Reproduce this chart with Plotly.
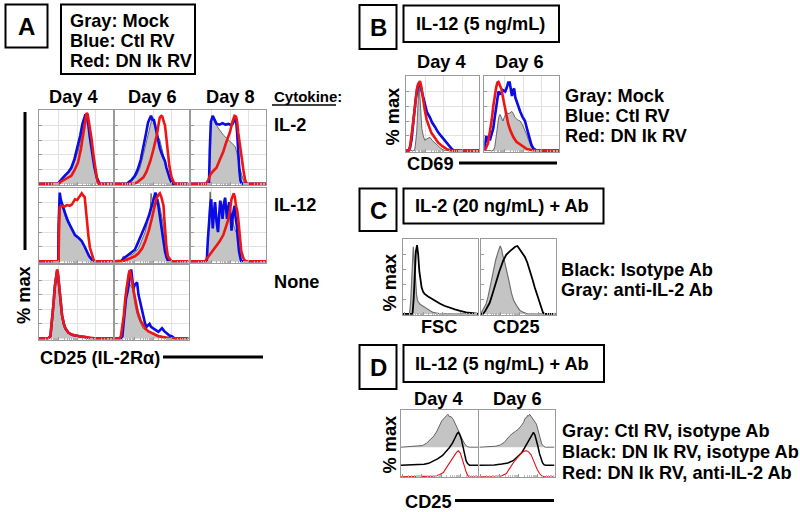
import math
import plotly.graph_objects as go

W, H = 800, 512
FONT = "Liberation Sans, Arial, sans-serif"
FS = 18.2


def X(px):
    return px / W


def Y(py):
    return 1 - py / H


# ---------------- DATA (x = % of axis, y = % max) ----------------
# Panel A, cytokine IL-2
A_IL2_D4_gray = [(0,0),(26,0),(28,3),(31,8),(35,12),(40,15),(44,20),(48,30),(53,44),(57,62),(60,80),(62,92),(63.5,95),(65,92),(67,80),(69,63),(72,42),(75,23),(78,9),(80,3),(82,0),(100,0)]
A_IL2_D4_blue = [(0,0),(26,0),(28,3),(32,8),(36,12),(40,16),(44,22),(48,33),(52,48),(56,66),(59,82),(61.5,92),(63,95),(65,91),(67,80),(69,63),(72,42),(75,23),(78,9),(80,3),(82,0),(100,0)]
A_IL2_D4_red = [(0,0),(27,0),(30,3),(35,6),(40,8),(44,11),(48,18),(53,29),(57,48),(60,67),(62.5,86),(64.5,97),(66,95),(68,83),(71,63),(74,38),(77,13),(79,4),(81,0),(100,0)]

A_IL2_D6_gray = [(0,0),(18,0),(20,2),(25,6),(30,13),(34,22),(38.6,40),(43,60),(46,72),(48,80),(50,88),(52,85),(55,75),(58,66),(61,60),(64,47),(68,29),(71,18),(75,7),(79,0),(100,0)]
A_IL2_D6_blue = [(0,0),(16,0),(18,2),(22,5),(27,11),(31,20),(35,33),(38.6,49),(42,68),(45,84),(47,90),(49,93),(51,88),(53,87),(55,78),(57,67),(61,49),(64,40),(68,31),(70,22),(72.5,13),(75,6),(77,2),(79,0),(100,0)]
A_IL2_D6_red = [(0,0),(25,0),(30,2),(34,5),(38.6,9),(43,17),(48,31),(52,46),(57,67),(59,80),(61,91),(63,93),(64.5,92),(66,86),(68,80),(70,62),(72,40),(74,24),(77,9),(80,2),(82,0),(100,0)]

A_IL2_D8_gray = [(0,0),(24,0),(25,40),(26,75),(28,93),(31,86),(34,80),(38,74),(43,67),(48,62),(52,58),(56,55),(59,51),(61,43),(63,31),(65,22),(68,11),(70,4),(72,0),(100,0)]
A_IL2_D8_blue = [(0,0),(24,0),(25,45),(26.5,85),(29,93),(31,88),(34,82),(38,81),(42,83),(46,81),(50,82),(54,80),(56,83),(58,88),(60,89),(61.5,70),(63,40),(64.5,18),(66,4),(68,0),(100,0)]
A_IL2_D8_red = [(0,0),(20,0),(23,5),(26,13),(30,18),(34,22),(38,32),(43,44),(47,57),(52,71),(55,84),(58,93),(60,92),(61.5,85),(63,70),(65,53),(67,36),(70,18),(72,6),(74,0),(100,0)]

# Panel A, cytokine IL-12
A_IL12_D4_gray = [(0,0),(26.5,0),(27,40),(27.5,80),(28.5,88),(30,80),(33.5,68),(37,58),(40,52),(44,44),(49,36),(54,31),(58,26),(62,20),(65,13),(69,6),(72,2),(74,0),(100,0)]
A_IL12_D4_blue = [(0,0),(26.5,0),(27,50),(27.5,88),(28.5,94),(30,84),(33.5,72),(37,62),(40,54),(44,45),(49,36),(54,32),(58,28),(62,20),(65,14),(68,7),(72,2),(74,0),(100,0)]
A_IL12_D4_red = [(0,0),(27,0),(27.5,40),(28.5,74),(31,76),(35,75),(38,77),(42,76),(45,78),(49,85),(52,84),(55,88),(58,93),(60,90),(62,88),(63.5,72),(65,54),(67,35),(69,19),(72,7),(74,2),(76,0),(100,0)]

A_IL12_D6_gray = [(0,0),(8,0),(11,7),(15,6),(19,9),(23,9),(27,12),(32,18),(36,28),(41,40),(45,58),(48,72),(49,93),(51,80),(53,72),(55,76),(57,82),(59,85),(62,70),(66,49),(68,30),(70,14),(72,5),(74,1),(76,0),(100,0)]
A_IL12_D6_blue = [(0,0),(8,0),(9,1),(13,5),(18,9),(22,11),(27,16),(31,25),(36,36),(39,44),(43,54),(46,62),(50,76),(52,84),(54,90),(55,94),(57,85),(59,76),(61,62),(64,40),(66,25),(68,14),(70,6),(72,1),(74,0),(100,0)]
A_IL12_D6_red = [(0,0),(9,0),(15,2),(20,4),(27,7),(32,11),(37,18),(41,27),(46,42),(50,58),(53,72),(56,85),(59,91),(61,93),(63,88),(66,76),(67,60),(68,40),(70,20),(72,7),(75,2),(77,0),(100,0)]

A_IL12_D8_gray = [(0,0),(20,0),(22,20),(24,55),(25.5,95),(27,70),(29,49),(31,65),(33,78),(35,55),(37,60),(40,82),(42,75),(45,80),(47,66),(50,78),(53,62),(56,55),(58,45),(61,38),(63,25),(65,12),(67,3),(69,0),(100,0)]
A_IL12_D8_blue = [(0,0),(21,0),(22.5,30),(24,54),(26,80),(27,85),(29,45),(30.5,65),(32,81),(34,55),(36,40),(38,70),(39,83),(41,70),(42,58),(44,80),(45.5,87),(47,70),(48,58),(50,75),(51,81),(53,60),(54,42),(56,65),(58,76),(59.5,60),(61,49),(62.5,30),(64,14),(66,4),(67,0),(100,0)]
A_IL12_D8_red = [(0,0),(19,0),(22,5),(25,9),(30,15),(34,20),(38,27),(43,36),(47,47),(50,58),(52,70),(54,85),(57,93),(58.5,88),(60,76),(61.5,70),(63,58),(65,36),(67,14),(70,4),(72,1),(74,0),(100,0)]

# Panel A, no cytokine
A_None_D4_gray = [(0,0),(13,0),(16,3),(18,20),(20,46),(22,70),(24,86),(25,90),(26,86),(28,66),(30,42),(31.6,28),(34,17),(36,12),(40,7),(45,4),(55,2),(63,1),(70,0),(100,0)]
A_None_D4_blue = [(0,0),(13,0),(16,3),(18,22),(20,46),(22,72),(24,88),(25,93),(26,89),(28,68),(30,44),(31.6,32),(34,20),(36,14),(40,8),(45,5),(55,3),(63,2),(70,0),(100,0)]
A_None_D4_red = [(0,0),(13,0),(16,3),(18,22),(20,46),(22,72),(24,88),(25,95),(26,91),(28,68),(30,44),(31.6,32),(34,20),(36,14),(40,8),(45,5),(55,3),(63,2),(75,0),(100,0)]

A_None_D6_gray = [(0,0),(7,0),(9,4),(11,20),(13,45),(15,70),(17,80),(18,86),(19,80),(21,72),(23.5,70),(26,52),(28,42),(31,30),(35,20),(38,14),(41,12),(45,10),(50,7),(55,5),(60,4),(65,3),(70,1),(75,0),(100,0)]
A_None_D6_blue = [(0,0),(8,0),(10,3),(12,25),(13,37),(15,55),(17,64),(19,77),(20.5,85),(22,95),(23.5,82),(25,68),(27,74),(30,77),(32,60),(35,45),(37,35),(39,27),(41,20),(43,16),(45,18),(47,20),(49,16),(52,14),(55,11),(59,9),(62,12),(64,14),(67,10),(70,7),(74,4),(77,3),(80,1),(81,0),(100,0)]
A_None_D6_red = [(0,0),(6,0),(8,3),(10,15),(12,32),(14,55),(16,72),(17,77),(18.5,88),(20,94),(21.5,88),(23.5,77),(26,62),(28,50),(31,36),(35,24),(38,18),(41,14),(45,10),(50,7),(55,5),(59,3),(65,2),(70,1),(78,0),(100,0)]

# Panel B, CD69 with IL-12
B_D4_gray = [(0,0),(12,0),(13,6),(15,25),(16,45),(17,70),(18,87),(19,80),(20.5,50),(22,30),(24,20),(26,14),(29,16),(33,18),(36,14),(40,10),(44,6),(48,3),(51,1),(54,0),(100,0)]
B_D4_blue = [(0,0),(4,0),(6,4),(8,15),(11,45),(14,72),(17,89),(18.5,90),(20,88),(23,75),(26,62),(29,52),(33,45),(36,38),(40,32),(44,25),(49,19),(53,14),(56,10),(60,5),(63,2),(66,0),(100,0)]
B_D4_red = [(0,0),(4,0),(6,6),(8,18),(10,36),(13,62),(15,82),(17,90),(19.5,94),(21,88),(23,73),(26,55),(28.6,42),(32,32),(35,24),(40,17),(44,11),(50,6),(56,2),(62,0),(100,0)]

B_D6_gray = [(0,0),(12,0),(14,5),(16,18),(18,37),(19.5,46),(21,49),(23,44),(25,40),(27,46),(30,51),(33,50),(37,53),(39,50),(41,45),(44,42),(48,40),(51,35),(54,29),(57,21),(59,15),(61,10),(63,5),(66,2),(68,0),(100,0)]
B_D6_blue = [(0,0.5),(1,13),(2.5,20),(4,12),(6,18),(8,16),(10,23),(12,30),(14,45),(16,62),(19,80),(21,77),(23,78),(25,82),(28,80),(30,85),(32,92),(34,92),(35.5,80),(37,74),(38.5,82),(40,84),(41.5,72),(43,67),(46,60),(48,53),(51,46),(54.5,40),(57,30),(59,22),(61,14),(63,8),(65.5,3),(68,1),(70,0),(100,0)]
B_D6_red = [(0,1),(2,3),(5,10),(8,27),(10,42),(12,60),(14,75),(16,86),(17.5,92),(19,93),(21,88),(23,83),(25,72),(28,56),(30,46),(32,36),(35,27),(39,18),(43,12),(48,8),(52,5),(57,2),(62,1),(68,0),(100,0)]

# Panel C, IL-2 + antibody
C_FSC_gray = [(0,0),(9,0),(10.5,15),(12,45),(13,75),(14,91),(15,78),(16,58),(17.5,36),(18.5,24),(20,17),(23,13),(26,11),(29,9),(32,7),(36,4),(40,2),(45,1),(50,0),(100,0)]
C_FSC_black = [(0,0),(13,0),(14.5,20),(16,58),(17.5,85),(19,93),(20.5,80),(22,58),(23.5,44),(25,36),(27,30),(29,27),(33,24),(38,21),(43,17),(49,14),(55,11),(62,8),(69,6),(76,4),(84,2),(93,1),(100,0)]
C_CD25_gray = [(0,0),(1,2),(4,6),(7,13),(10,24),(13,40),(17,58),(20,73),(23.5,85),(26,92),(28,87),(29,81),(32,70),(35,58),(38,43),(41,28),(44,18),(48,11),(52,5),(57,2),(62,0),(100,0)]
C_CD25_black = [(0,0),(3,0),(6,4),(9,9),(12,15),(16,28),(21,45),(25,58),(30,72),(34,80),(39,85),(43,89),(46,91),(49,92),(51,89),(55,84),(59,77),(62,70),(66,58),(69,47),(72,36),(75,26),(79,15),(81,8),(83,2),(85,0),(100,0)]

# Panel D, IL-12 + antibody (each curve normalised to its own peak)
D_D4_gray = [(0,0),(10,1),(20,2),(28,5),(33,12),(38,22),(42,32),(46,46),(50,66),(53,80),(56,88),(58,94),(60,97),(61,100),(63,92),(65,93),(68,84),(71,70),(74,55),(77,38),(80,22),(83,9),(86,2),(89,0),(100,0)]
D_D4_black = [(0,0),(20,1),(30,3),(36,6),(42,12),(48,20),(54,30),(59,42),(63,54),(67,68),(70,84),(73,97),(74.5,100),(76.5,92),(78.5,78),(80.5,56),(82.5,32),(84.5,14),(86.5,5),(89,0),(100,0)]
D_D4_red = [(0,0),(38,0),(44,2),(50,6),(55,13),(59,28),(63,42),(66,55),(69,66),(72,74),(74.5,79),(77,72),(79,58),(81,40),(83,25),(85,12),(87,3),(89,0),(100,0)]
D_D6_gray = [(0,0),(12,1),(22,3),(28,7),(33,14),(38,28),(43,40),(48,48),(52,55),(56,66),(59,76),(61,88),(63,90),(64,96),(65,94),(67,100),(69,92),(71,87),(73,80),(76,70),(78,50),(80,30),(83,10),(86,2),(88,0),(100,0)]
D_D6_black = [(0,0),(20,1),(30,4),(38,7),(45,14),(51,25),(56,37),(60,52),(64,68),(67,84),(70,95),(72,100),(74,92),(76,78),(78,57),(80,36),(82,20),(84,8),(86,2),(88,0),(100,0)]
D_D6_red = [(0,0),(25,0),(30,3),(36,10),(41,28),(46,45),(52,61),(56,72),(60,78),(63,79),(66,75),(69,66),(72,50),(74,38),(77,22),(80,10),(83,3),(86,0),(100,0)]

# Text content
A_days = ["Day 4", "Day 6", "Day 8"]
A_cytokines = ["IL-2", "IL-12", "None"]
A_legend = ["Gray: Mock", "Blue: Ctl RV", "Red: DN Ik RV"]
B_days = ["Day 4", "Day 6"]
B_legend = ["Gray: Mock", "Blue: Ctl RV", "Red: DN Ik RV"]
C_labels = ["FSC", "CD25"]
C_legend = ["Black: Isotype Ab", "Gray: anti-IL-2 Ab"]
D_days = ["Day 4", "Day 6"]
D_legend = ["Gray: Ctl RV, isotype Ab", "Black: DN Ik RV, isotype Ab", "Red: DN Ik RV, anti-IL-2 Ab"]

# ---------------- STYLES ----------------
GRAY_FILL = "#c4c4c4"
GRAY_LINE = "#4a4a4a"
BLUE = "#0b0be6"
RED = "#ee1515"

S_gray = dict(color=GRAY_LINE, width=0.8, fill=GRAY_FILL)
S_blue = dict(color=BLUE, width=2.6)
S_red = dict(color=RED, width=2.6)
S_cgray = dict(color="#707070", width=1.2, fill=GRAY_FILL)
S_cblack = dict(color="black", width=1.8)
S_dgray = dict(color="#555555", width=0.9, fill=GRAY_FILL)
S_dblack = dict(color="black", width=1.5)
S_dred = dict(color="#e61010", width=1.1)

D_OFFSETS = {"red": 0, "black": 35, "gray": 90}

# panel rectangles in pixels (left, top, right, bottom)
A_cols = [(38.5, 113), (115, 188.5), (191, 266)]
A_rows = [(110, 185), (187.5, 262.5), (265, 339.5)]

A_data = [
    [(A_IL2_D4_gray, A_IL2_D4_blue, A_IL2_D4_red), (A_IL2_D6_gray, A_IL2_D6_blue, A_IL2_D6_red), (A_IL2_D8_gray, A_IL2_D8_blue, A_IL2_D8_red)],
    [(A_IL12_D4_gray, A_IL12_D4_blue, A_IL12_D4_red), (A_IL12_D6_gray, A_IL12_D6_blue, A_IL12_D6_red), (A_IL12_D8_gray, A_IL12_D8_blue, A_IL12_D8_red)],
    [(A_None_D4_gray, A_None_D4_blue, A_None_D4_red), (A_None_D6_gray, A_None_D6_blue, A_None_D6_red), None],
]

panels = []  # (rect, kind, [(pts, style, offset)])
for r, row in enumerate(A_data):
    for c, cell in enumerate(row):
        if cell is None:
            continue
        g, b, rd = cell
        rect = (A_cols[c][0], A_rows[r][0], A_cols[c][1], A_rows[r][1])
        panels.append((rect, "A", [(g, S_gray, 0), (b, S_blue, 0), (rd, S_red, 0)]))

panels.append(((405.7, 76, 479, 151.7), "A", [(B_D4_gray, S_gray, 0), (B_D4_blue, S_blue, 0), (B_D4_red, S_red, 0)]))
panels.append(((484.3, 76, 559, 151.7), "A", [(B_D6_gray, S_gray, 0), (B_D6_blue, S_blue, 0), (B_D6_red, S_red, 0)]))
panels.append(((402.7, 239.3, 478.3, 315), "C", [(C_FSC_gray, S_cgray, 0), (C_FSC_black, S_cblack, 0)]))
panels.append(((480.7, 239.3, 555.7, 315), "C", [(C_CD25_gray, S_cgray, 0), (C_CD25_black, S_cblack, 0)]))
panels.append(((401, 410, 478, 477.3), "D", [(D_D4_gray, S_dgray, D_OFFSETS["gray"]), (D_D4_black, S_dblack, D_OFFSETS["black"]), (D_D4_red, S_dred, D_OFFSETS["red"])]))
panels.append(((479.3, 410, 554.5, 477.3), "D", [(D_D6_gray, S_dgray, D_OFFSETS["gray"]), (D_D6_black, S_dblack, D_OFFSETS["black"]), (D_D6_red, S_dred, D_OFFSETS["red"])]))

fig = go.Figure()
layout = dict(
    width=W, height=H, margin=dict(l=0, r=0, t=0, b=0),
    paper_bgcolor="white", plot_bgcolor="white", showlegend=False,
)

# log-decade style minor ticks (axis decoration)
minor_vals = []
for dec in range(4):
    for m in range(2, 10):
        minor_vals.append(2 + dec * 25 + 25 * math.log10(m))

for i, (rect, kind, curves) in enumerate(panels):
    n = i + 1
    sfx = "" if n == 1 else str(n)
    l, t, r, b = rect
    xa = dict(domain=[X(l), X(r)], range=[0, 100], anchor="y" + sfx,
              showline=True, mirror=True, linecolor="#9a9a9a", linewidth=1,
              showticklabels=False, zeroline=False, fixedrange=True,
              ticks="inside", ticklen=3, tickcolor="#9a9a9a")
    ya = dict(domain=[Y(b), Y(t)], anchor="x" + sfx,
              showline=True, mirror=True, linecolor="#9a9a9a", linewidth=1,
              showticklabels=False, zeroline=False, fixedrange=True,
              ticks="inside", ticklen=3, tickcolor="#9a9a9a")
    if kind == "A":
        xa.update(showgrid=True, gridcolor="#e2e2e2", tickvals=[27, 52, 77],
                  minor=dict(tickvals=minor_vals, ticks="inside", ticklen=2, tickcolor="#b0b0b0"))
        ya.update(range=[-1.5, 101], showgrid=True, gridcolor="#e2e2e2", tickvals=[20, 40, 60, 80])
    elif kind == "C":
        xa.update(showgrid=False, tickvals=[2, 27, 52, 77],
                  minor=dict(tickvals=minor_vals, ticks="inside", ticklen=2, tickcolor="#b0b0b0"))
        ya.update(range=[-1.5, 101], showgrid=False, tickvals=[20, 40, 60, 80])
    else:
        xa.update(showgrid=False, tickvals=[2, 27, 52, 77],
                  minor=dict(tickvals=minor_vals, ticks="inside", ticklen=2, tickcolor="#c0c0c0"))
        ya.update(range=[-1.5, 203], showgrid=False, tickvals=[])
    layout["xaxis" + sfx] = xa
    layout["yaxis" + sfx] = ya

    for pts, st, off in curves:
        xs = [p[0] for p in pts]
        ys = [p[1] + off for p in pts]
        kw = dict(x=xs, y=ys, mode="lines", xaxis="x" + sfx, yaxis="y" + sfx,
                  line=dict(color=st["color"], width=st["width"]), hoverinfo="skip")
        if "fill" in st:
            kw["fill"] = "tozeroy" if off == 0 else "toself"
            kw["fillcolor"] = st["fill"]
        fig.add_trace(go.Scatter(**kw))

# ---------------- shapes ----------------
shapes = []


def box(l, t, r, b, w=2):
    shapes.append(dict(type="rect", xref="paper", yref="paper", x0=X(l), x1=X(r), y0=Y(b), y1=Y(t),
                       line=dict(color="black", width=w), fillcolor="rgba(0,0,0,0)"))


def hline(x0, x1, y, w=3):
    shapes.append(dict(type="line", xref="paper", yref="paper", x0=X(x0), x1=X(x1), y0=Y(y), y1=Y(y),
                       line=dict(color="black", width=w)))


def vline(x, y0, y1, w=3):
    shapes.append(dict(type="line", xref="paper", yref="paper", x0=X(x), x1=X(x), y0=Y(y0), y1=Y(y1),
                       line=dict(color="black", width=w)))


box(5.5, 4.5, 47.5, 47.5)
box(61, 4.5, 195, 74)
box(359.5, 5, 396.5, 49)
box(403.5, 5.5, 559, 42)
box(359.5, 188.5, 396.5, 231)
box(403.5, 188.5, 603.5, 223.5)
box(359.5, 345, 396.5, 389)
box(403.5, 345, 604, 382)
vline(25, 112, 250)
hline(163, 263, 357)
hline(459, 557, 163)
hline(455, 554, 500.5)
hline(272, 336, 105, w=1.5)
layout["shapes"] = shapes

# ---------------- text ----------------
ann = []


def txt(x, y, s, size=FS, xa="left", ya="middle", angle=0):
    ann.append(dict(x=X(x), y=Y(y), xref="paper", yref="paper", text="<b>" + s + "</b>",
                    showarrow=False, xanchor=xa, yanchor=ya, textangle=angle,
                    font=dict(family=FONT, size=size, color="black")))


txt(26.5, 26.5, "A", size=24, xa="center")
for k, s in enumerate(A_legend):
    txt(67.5, 21 + 20 * k, s)
for k, s in enumerate(A_days):
    txt([73.7, 152, 230.3][k], 96.5, s, xa="center")
txt(272, 96.5, "Cytokine:", size=15)
for k, s in enumerate(A_cytokines):
    txt(272, [125, 205, 282][k], s)
txt(24, 295, "% max", xa="center", angle=-90)
txt(37.5, 358, "CD25 (IL-2Rα)")

txt(378, 27.5, "B", size=24, xa="center")
txt(481, 24, "IL-12 (5 ng/mL)", xa="center")
for k, s in enumerate(B_days):
    txt([441.5, 519][k], 62, s, xa="center")
txt(392.5, 117, "% max", xa="center", angle=-90)
txt(405, 163.5, "CD69")
for k, s in enumerate(B_legend):
    txt(562.5, 96 + 20 * k, s)

txt(378, 210.5, "C", size=24, xa="center")
txt(502, 206, "IL-2 (20 ng/mL) + Ab", xa="center")
txt(389.5, 283, "% max", xa="center", angle=-90)
for k, s in enumerate(C_labels):
    txt([439, 516.5][k], 326.5, s, xa="center")
for k, s in enumerate(C_legend):
    txt(559, 270 + 19.5 * k, s)

txt(378, 367.5, "D", size=24, xa="center")
txt(502, 363.5, "IL-12 (5 ng/mL) + Ab", xa="center")
for k, s in enumerate(D_days):
    txt([438.5, 517][k], 398.5, s, xa="center")
txt(389.5, 445, "% max", xa="center", angle=-90)
txt(403, 501.5, "CD25")
for k, s in enumerate(D_legend):
    txt(560, 431 + 21 * k, s)

layout["annotations"] = ann
fig.update_layout(**layout)
fig.write_html(
    "out.html",
    config={"displayModeBar": False, "staticPlot": True},
    post_script="document.body.style.margin='0';document.body.style.padding='0';document.body.style.overflow='hidden';",
)
